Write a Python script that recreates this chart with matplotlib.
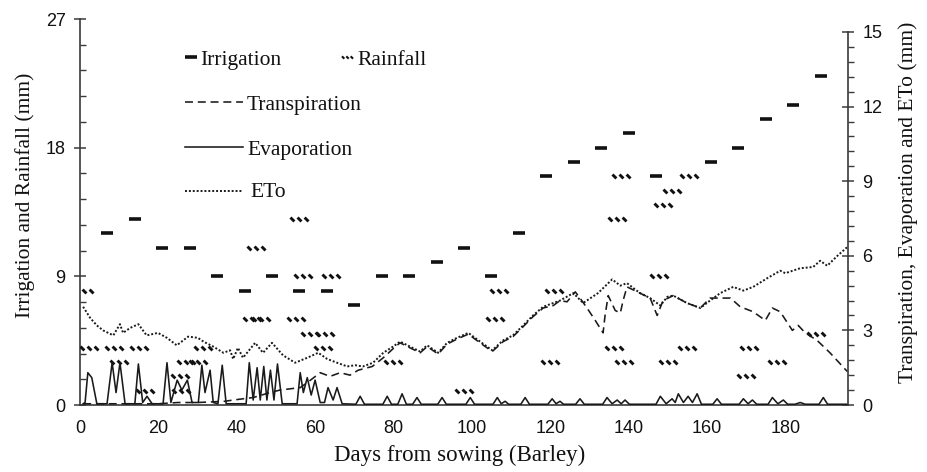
import matplotlib
matplotlib.use("Agg")
import matplotlib.pyplot as plt
from matplotlib.path import Path
from matplotlib.lines import Line2D
from matplotlib.ticker import MultipleLocator

# ---------------- data ----------------
irr_day = [7, 14, 21, 28, 35, 42, 49, 56, 63, 70, 77, 84, 91, 98, 105, 112,
           119, 126, 133, 140, 147, 161, 168, 175, 182, 189]
irr_mm = [12, 13, 11, 11, 9, 8, 9, 8, 8, 7, 9, 9, 10, 11, 9, 12,
          16, 17, 18, 19, 16, 17, 18, 20, 21, 23]

rain_day = [1.0, 2.2, 8.7, 10.0, 15.1, 16.6, 25.5, 25.9, 27.0, 30.0, 31.4,
            44.9, 43.8, 46.1, 55.0, 55.9, 56.8, 58.8, 62.6, 61.9, 64.1,
            79.8, 98.0, 106.0, 107.0, 120.9, 119.9,
            136.3, 137.1, 138.1, 138.9,
            147.8, 148.8, 150.0, 151.1, 155.5, 154.8,
            170.8, 169.9, 177.9, 187.9]
rain_mm = [8, 4, 4, 3, 4, 1, 2, 1, 3, 3, 4,
           11, 6, 6, 6, 13, 9, 5, 5, 4, 9,
           3, 1, 6, 8, 8, 3,
           4, 13, 16, 3,
           9, 14, 3, 15, 16, 4,
           4, 2, 3, 5]

eto_day = [0.8, 2.6, 4.3, 5.9, 8.5, 10.2, 11.0, 12.8, 14.9, 17.0,
           19.9, 22.2, 24.7, 27.6, 30.1, 31.5, 34.0, 36.6, 38.3, 39.1,
           40.3, 41.6, 44.7, 46.7, 49.0, 51.8, 54.9, 58.0, 60.8, 63.1,
           65.6, 68.2, 70.2, 72.2, 74.8, 77.4, 79.9, 81.7, 84.2, 86.8,
           88.6, 91.4, 93.7, 96.2, 99.1, 102.1, 105.2, 108.0, 110.5, 113.1,
           115.6, 118.2, 120.8, 122.5, 125.9, 128.4, 132.2, 135.8, 137.9, 139.6,
           142.9, 145.5, 148.1, 149.9, 151.4, 154.9, 158.3, 160.8, 163.4, 166.7,
           169.3, 171.8, 175.4, 178.7, 180.0, 183.8, 187.1, 188.9, 190.7, 193.3,
           195.8]
eto_val = [3.95, 3.5, 3.2, 3.0, 2.8, 3.25, 2.9, 3.1, 3.25, 2.8,
           2.9, 2.7, 2.4, 2.75, 2.7, 2.55, 2.35, 2.1, 2.2, 1.85,
           2.3, 1.9, 2.5, 2.1, 2.5, 2.0, 1.7, 1.9, 2.1, 1.85,
           1.7, 1.55, 1.6, 1.55, 1.7, 2.1, 2.35, 2.55, 2.35, 2.15,
           2.4, 2.1, 2.5, 2.7, 2.9, 2.55, 2.2, 2.6, 2.8, 3.2,
           3.6, 3.95, 4.1, 4.2, 4.5, 4.1, 4.5, 5.05, 4.8, 4.9,
           4.5, 4.3, 4.0, 4.35, 4.4, 4.1, 3.9, 4.2, 4.5, 4.75,
           4.6, 4.75, 5.1, 5.4, 5.3, 5.5, 5.55, 5.8, 5.6, 6.0,
           6.35]

tr_day = [0.8, 10, 20, 25, 30, 37, 39.1, 44.2, 48.5, 51.0,
          56.2, 58.0, 61.3, 63.8, 66.4, 68.9, 71.0, 74.6, 77.4, 80.5,
          81.7, 84.2, 86.8, 88.6, 91.4, 93.7, 96.2, 99.1, 102.1, 105.2,
          108.0, 110.5, 113.1, 115.6, 118.2, 120.8, 122.5, 124.3, 126.4, 127.6,
          129.4, 131.5, 133.5, 134.0, 134.8, 136.6, 137.9, 138.6, 139.6, 142.9,
          145.5, 147.3, 148.8, 151.4, 154.9, 158.3, 160.8, 163.4, 166.0, 168.5,
          171.8, 174.9, 176.7, 178.7, 181.8, 183.3, 185.1, 188.1, 191.4, 195.8]
tr_val = [0.05, 0.05, 0.05, 0.1, 0.1, 0.15, 0.2, 0.3, 0.5, 0.6,
          0.7, 0.9, 1.3, 1.15, 1.3, 1.2, 1.4, 1.55, 1.9, 2.35,
          2.5, 2.3, 2.1, 2.35, 2.05, 2.45, 2.65, 2.85, 2.5, 2.15,
          2.55, 2.75, 3.15, 3.55, 3.9, 4.0, 4.2, 4.15, 4.55, 4.3,
          3.9, 3.4, 2.9, 3.6, 4.4, 3.8, 3.7, 4.2, 4.75, 4.5,
          4.3, 3.6, 4.2, 4.4, 4.1, 3.9, 4.3, 4.3, 4.3, 3.95,
          3.75, 3.4, 3.9, 3.75, 3.0, 3.2, 2.9, 2.6, 2.1, 1.35]

ev_day = [0.8, 1.3, 2.0, 3.0, 4.3, 6.9, 8.2, 9.2, 10.2, 11.5,
          14.0, 14.9, 16.0, 17.1, 18.4, 21.2, 22.2, 23.2, 24.8, 26.0,
          27.4, 28.6, 30.2, 31.1, 31.9, 33.2, 34.0, 35.2, 36.3, 37.3,
          42.4, 43.2, 44.2, 45.2, 46.0, 46.9, 47.7, 48.6, 49.5, 50.4,
          51.6, 55.4, 56.2, 57.0, 58.0, 59.0, 60.0, 61.3, 62.4, 63.3,
          64.6, 65.6, 66.9,
          70.4, 71.5, 72.6, 77.3, 78.4, 79.5, 81.1, 82.2, 83.3,
          84.9, 86.0, 87.1, 91.3, 92.4, 93.5, 98.5, 99.6, 100.7,
          105.4, 106.5, 107.5, 108.5, 109.4, 112.5, 113.6, 114.7,
          119.4, 120.5, 121.5, 122.5, 123.4, 126.5, 127.6, 128.7,
          133.4, 134.5, 135.8, 137.1, 138.1, 139.1, 140.2,
          147.0, 148.1, 149.6, 151.1, 151.9, 152.7, 154.0, 155.2, 156.3, 157.5, 158.6,
          161.5, 162.6, 163.7, 168.2, 169.3, 170.5, 171.6, 172.7,
          175.6, 176.7, 178.1, 179.5, 180.6, 182.5, 183.8, 185.1,
          188.6, 189.7, 190.8, 195.8]
ev_val = [0.05, 0.1, 1.3, 1.1, 0.05, 0.05, 1.7, 0.5, 1.7, 0.05,
          0.05, 1.65, 0.1, 0.35, 0.05, 0.05, 1.7, 0.1, 1.0, 0.6,
          1.0, 0.1, 0.1, 1.6, 0.5, 1.4, 0.1, 0.05, 1.6, 0.05,
          0.05, 1.7, 0.2, 1.5, 0.2, 1.55, 0.2, 1.4, 0.2, 1.65,
          0.05, 0.05, 1.3, 0.5, 1.1, 0.4, 1.0, 0.1, 0.1, 0.7,
          0.2, 0.7, 0.05,
          0.03, 0.35, 0.03, 0.03, 0.35, 0.03, 0.03, 0.45, 0.03,
          0.03, 0.3, 0.03, 0.03, 0.3, 0.03, 0.03, 0.3, 0.03,
          0.03, 0.3, 0.05, 0.15, 0.03, 0.03, 0.3, 0.03,
          0.03, 0.25, 0.05, 0.15, 0.03, 0.03, 0.25, 0.03,
          0.03, 0.3, 0.05, 0.2, 0.05, 0.2, 0.03,
          0.03, 0.35, 0.05, 0.25, 0.1, 0.45, 0.1, 0.35, 0.1, 0.45, 0.03,
          0.03, 0.25, 0.03, 0.03, 0.25, 0.05, 0.2, 0.03,
          0.03, 0.3, 0.05, 0.2, 0.03, 0.03, 0.1, 0.03,
          0.03, 0.3, 0.03, 0.03]

left_ticks = [0, 9, 18, 27]
right_ticks = [0, 3, 6, 9, 12, 15]
x_ticks = [0, 20, 40, 60, 80, 100, 120, 140, 160, 180]

# ---------------- style ----------------
SANS = ['Liberation Sans', 'DejaVu Sans']
SERIF = ['Liberation Serif', 'DejaVu Serif']
INK = '#111111'
LINE = '#1a1a1a'
SPINE = '#3a3a3a'

# custom hatched-dash marker for rainfall
_verts, _codes = [], []
for cx in (-2.0, 0.0, 2.0):
    _verts += [(cx - 0.55, 0.55), (cx + 0.55, -0.55)]
    _codes += [Path.MOVETO, Path.LINETO]
RAIN_MARK = Path(_verts, _codes)

fig = plt.figure(figsize=(9.28, 4.72), dpi=100)
ax = fig.add_axes([80 / 928, 1 - 405 / 472, 768 / 928, 386 / 472])
ax2 = ax.twinx()

ax.set_xlim(0, 196)
ax.set_ylim(0, 27)
ax2.set_ylim(0, 15 * 386 / 373)

# marks on left axis
ax.plot(irr_day, irr_mm, linestyle='none', marker='_', markersize=8.6,
        markeredgewidth=2.6, color=INK, zorder=4)
ax.plot(rain_day, rain_mm, linestyle='none', marker=RAIN_MARK, markersize=13,
        markeredgewidth=2.1, markerfacecolor='none', markeredgecolor=INK, zorder=4)

# lines on right axis
ax2.plot(eto_day, eto_val, color=LINE, lw=1.4, linestyle=(0, (1.0, 1.0)))
ax2.plot(tr_day, tr_val, color=LINE, lw=1.15, linestyle=(0, (5, 3)))
ax2.plot(ev_day, ev_val, color=LINE, lw=1.15, linestyle='-')

# spines
for a in (ax, ax2):
    a.spines['top'].set_visible(False)
    for s in a.spines.values():
        s.set_color(SPINE)
        s.set_linewidth(1.2)
ax.spines['right'].set_visible(False)
ax2.spines['left'].set_visible(False)
ax2.spines['bottom'].set_visible(False)
ax.spines['left'].set_bounds(0, 27)
ax2.spines['right'].set_bounds(0, 15)

# ticks
ax.set_xticks(x_ticks)
ax.set_xticklabels([str(t) for t in x_ticks])
ax.tick_params(axis='x', length=0, pad=11, labelsize=13, labelcolor=INK)
for lab in ax.get_xticklabels():
    lab.set_fontfamily(SANS)

ax.set_yticks(left_ticks)
ax.set_yticklabels([str(t) for t in left_ticks])
ax.yaxis.set_minor_locator(MultipleLocator(1.8))
ax.tick_params(axis='y', which='major', direction='inout', length=8.6, width=1.1,
               color=SPINE, pad=6, labelsize=13, labelcolor=INK)
ax.tick_params(axis='y', which='minor', direction='in', length=4.3, width=1.0, color=SPINE)
for lab in ax.get_yticklabels():
    lab.set_fontfamily(SANS)

ax2.set_yticks(right_ticks)
ax2.set_yticklabels([str(t) for t in right_ticks])
ax2.tick_params(axis='y', which='major', direction='inout', length=8.6, width=1.1,
                color=SPINE, pad=6, labelsize=13, labelcolor=INK)
ax2.tick_params(axis='y', which='minor', direction='out', length=4.3, width=1.0, color=SPINE)
ax2.set_yticks([t for t in [x * 0.6 for x in range(26)] if t <= 15.001], minor=True)
for lab in ax2.get_yticklabels():
    lab.set_fontfamily(SANS)

# axis labels
fig.text(25 / 928, 1 - 195 / 472, 'Irrigation and Rainfall (mm)', rotation=90,
         ha='center', va='center', fontsize=15.5, family=SERIF, color=INK)
fig.text(908 / 928, 1 - 202 / 472, 'Transpiration, Evaporation and ETo (mm)', rotation=90,
         ha='center', va='center', fontsize=15.5, family=SERIF, color=INK)
fig.text(459.5 / 928, 1 - 455 / 472, 'Days from sowing (Barley)',
         ha='center', va='center', fontsize=16.5, family=SERIF, color=INK)

# manual legend (axes fraction coordinates)
T = ax.transAxes
ax.add_line(Line2D([0.1445], [0.9016], transform=T, linestyle='none', marker='_',
                   markersize=8.6, markeredgewidth=2.6, color=INK))
ax.text(0.1563, 0.8808, 'Irrigation', transform=T, ha='left', va='baseline',
        fontsize=15.5, family=SERIF, color=INK)
ax.add_line(Line2D([0.3477], [0.9016], transform=T, linestyle='none', marker=RAIN_MARK,
                   markersize=8, markeredgewidth=1.5, markerfacecolor='none',
                   markeredgecolor=INK))
ax.text(0.3607, 0.8808, 'Rainfall', transform=T, ha='left', va='baseline',
        fontsize=15.5, family=SERIF, color=INK)

legend_rows = [
    ('Transpiration', (0, (5, 3)), 1.15, 0.785, 0.7642, 0.2174),
    ('Evaporation', '-', 1.15, 0.6684, 0.6477, 0.2174),
    ('ETo', (0, (1.0, 1.0)), 1.4, 0.5544, 0.5389, 0.2214),
]
for name, ls, lw, ly, ty, tx in legend_rows:
    ax.add_line(Line2D([0.1367, 0.2122], [ly, ly], transform=T, color=LINE,
                       lw=lw, linestyle=ls))
    ax.text(tx, ty, name, transform=T, ha='left', va='baseline',
            fontsize=15.5, family=SERIF, color=INK)

fig.savefig('out.png', dpi=100)
